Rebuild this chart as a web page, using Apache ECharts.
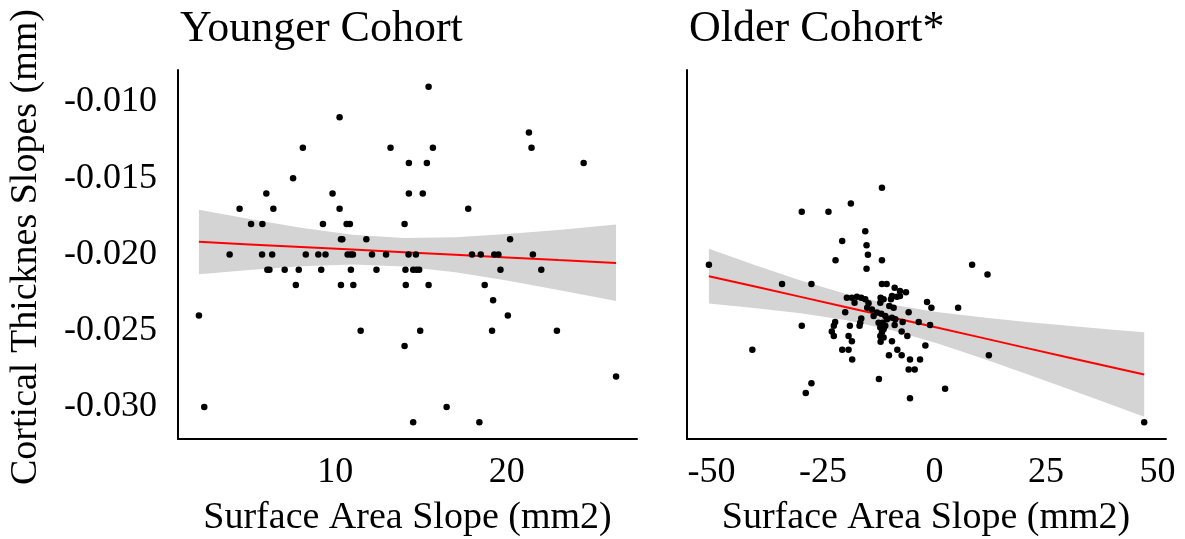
<!DOCTYPE html>
<html><head><meta charset="utf-8">
<script src="https://cdn.jsdelivr.net/npm/echarts@6/dist/echarts.min.js"></script>
<style>html,body{margin:0;padding:0;background:#fff}#c{width:1185px;height:539px}</style>
</head><body><div id="c"></div>
<script>
// ---- Younger cohort points ----
const youngerX = [15.44,10.25,21.29,8.11,13.22,15.69,21.44,14.29,15.34,24.48,7.54,5.98,9.84,14.29,15.10,
  4.42,6.39,10.25,17.75,5.09,5.75,9.28,10.66,10.85,14.04,10.33,10.41,11.81,20.19,
  3.84,5.73,6.32,8.28,9.01,9.43,10.72,10.90,11.03,12.14,12.96,14.27,14.70,17.97,18.48,19.27,19.51,21.52,
  6.04,6.16,7.05,7.87,9.18,10.91,12.40,14.09,14.54,14.73,14.89,19.63,22.01,
  7.70,10.33,11.05,14.11,15.44,18.71,19.20,2.05,20.06,11.48,14.95,19.14,22.92,14.04,26.37,2.36,16.49,14.54,18.40];
const youngerY = [-0.009,-0.011,-0.012,-0.013,-0.013,-0.013,-0.013,-0.014,-0.014,-0.014,-0.015,-0.016,-0.016,-0.016,-0.016,
  -0.017,-0.017,-0.017,-0.017,-0.018,-0.018,-0.018,-0.018,-0.018,-0.018,-0.019,-0.019,-0.019,-0.019,
  -0.020,-0.020,-0.020,-0.020,-0.020,-0.020,-0.020,-0.020,-0.020,-0.020,-0.020,-0.020,-0.020,-0.020,-0.020,-0.020,-0.020,-0.020,
  -0.021,-0.021,-0.021,-0.021,-0.021,-0.021,-0.021,-0.021,-0.021,-0.021,-0.021,-0.021,-0.021,
  -0.022,-0.022,-0.022,-0.022,-0.022,-0.022,-0.023,-0.024,-0.024,-0.025,-0.025,-0.025,-0.025,-0.026,-0.028,-0.030,-0.030,-0.031,-0.031];

// ---- Younger cohort fit + confidence band ----
const youngerFitX   = [2.05, 5, 8, 11, 14, 17, 20, 23, 26.37];
const youngerFitY   = [-0.01917,-0.01934,-0.01951,-0.01968,-0.01985,-0.02002,-0.02019,-0.02036,-0.02055];
const youngerUpper  = [-0.01706,-0.01767,-0.01825,-0.01870,-0.01892,-0.01887,-0.01866,-0.01839,-0.01804];
const youngerLower  = [-0.02129,-0.02101,-0.02077,-0.02066,-0.02078,-0.02117,-0.02171,-0.02232,-0.02305];

// ---- Older cohort points ----
const olderX = [-11.79,-18.76,-29.77,-23.78,-15.53,-20.70,-15.24,-14.94,-22.20,-11.79,-15.24,-50.59,8.43,11.88,
  -34.19,-27.60,-11.79,-10.74,-8.94,-7.75,-6.40,-29.77,-40.85,5.29,-1.68,-0.70,-5.80,-3.55,-1.00,-2.05,12.18,
  -27.60,-28.87,-12.47,2.37,-5.50,-5.80,-4.45,-5.50,-3.25,-7.37,-8.34,-10.22,-9.54,-6.10,-7.37,-8.94,-7.15,47.01,
  -19.66,-18.53,-17.41,-16.43,-15.53,-17.93,-14.79,-20.03,-15.09,-14.04,-13.66,-18.98,-16.43,-16.66,-16.81,
  -22.28,-22.58,-23.03,-22.58,-19.28,-18.53,-20.70,-19.28,-18.46,-12.09,-11.42,-12.16,-9.77,-9.54,-8.42,-7.75,
  -10.14,-9.17,-12.91,-11.94,-11.04,-12.54,-11.64,-10.67,-9.54,-8.79,-12.16,-11.42,-11.79,-11.04,-12.16,-11.42,-12.09];
const olderY = [-0.01562,-0.01665,-0.01719,-0.01719,-0.01848,-0.01911,-0.01939,-0.02002,-0.02037,-0.02037,-0.02094,-0.02068,-0.02068,-0.02131,
  -0.02194,-0.02194,-0.02194,-0.02194,-0.02218,-0.02240,-0.02248,-0.02468,-0.02625,-0.02349,-0.02312,-0.02349,-0.02379,-0.02442,-0.02462,-0.02597,-0.02660,
  -0.02845,-0.02909,-0.02817,-0.02880,-0.02943,-0.02754,-0.02754,-0.02688,-0.02688,-0.02660,-0.02625,-0.02660,-0.02569,-0.02534,-0.02505,-0.02462,-0.02442,-0.03100,
  -0.02283,-0.02283,-0.02277,-0.02283,-0.02294,-0.02316,-0.02320,-0.02379,-0.02349,-0.02360,-0.02403,-0.02468,-0.02420,-0.02447,-0.02468,
  -0.02442,-0.02468,-0.02505,-0.02534,-0.02534,-0.02569,-0.02625,-0.02625,-0.02688,-0.02283,-0.02294,-0.02316,-0.02294,-0.02272,-0.02277,-0.02272,
  -0.02338,-0.02349,-0.02380,-0.02388,-0.02403,-0.02447,-0.02447,-0.02425,-0.02414,-0.02425,-0.02479,-0.02490,-0.02512,-0.02468,-0.02534,-0.02545,-0.02573];

// ---- Older cohort fit + confidence band ----
const olderFitX  = [-50.59,-40,-30,-20,-10,0,10,20,30,40,47.01];
const olderFitY  = [-0.02142,-0.02212,-0.02278,-0.02344,-0.02410,-0.02476,-0.02542,-0.02609,-0.02675,-0.02741,-0.02787];
const olderUpper = [-0.01962,-0.02072,-0.02170,-0.02258,-0.02327,-0.02375,-0.02410,-0.02441,-0.02468,-0.02493,-0.02510];
const olderLower = [-0.02322,-0.02352,-0.02386,-0.02430,-0.02493,-0.02577,-0.02674,-0.02777,-0.02882,-0.02989,-0.03064];

// ---- Ticks / labels ----
const yTicks = [-0.030,-0.025,-0.020,-0.015,-0.010];
const youngerXTicks = [10, 20];
const olderXTicks = [-50,-25,0,25,50];
const panelTitles = ['Younger Cohort','Older Cohort*'];
const xAxisTitle = 'Surface Area Slope (mm2)';
const yAxisTitle = 'Cortical Thicknes Slopes (mm)';

const SERIF = '"Liberation Serif","Times New Roman",serif';
const zip = (a,b) => a.map((v,i)=>[v,b[i]]);

function band(idx, xs, lo, hi){
  return {type:'custom', xAxisIndex:idx, yAxisIndex:idx, z:1, silent:true,
    data:[[xs[0], lo[0]]],
    renderItem:(params, api)=>{
      const pts=[];
      for(let i=0;i<xs.length;i++) pts.push(api.coord([xs[i], hi[i]]));
      for(let i=xs.length-1;i>=0;i--) pts.push(api.coord([xs[i], lo[i]]));
      return {type:'polygon', shape:{points:pts}, style:{fill:'#d4d4d4'}};
    }};
}

function xAxis(idx, min, max, ticks){
  return {type:'value', gridIndex:idx, min, max,
    axisLine:{show:true, onZero:false, lineStyle:{color:'#000', width:2}},
    axisTick:{show:false}, splitLine:{show:false},
    axisLabel:{customValues:ticks, color:'#000', fontSize:36, fontFamily:SERIF, margin:16,
      showMinLabel:true, showMaxLabel:true}};
}
function yAxis(idx, showLabels){
  return {type:'value', gridIndex:idx, min:-0.0321, max:-0.0079,
    axisLine:{show:true, onZero:false, lineStyle:{color:'#000', width:2}},
    axisTick:{show:false}, splitLine:{show:false},
    axisLabel:{show:showLabels, customValues:yTicks, color:'#000', fontSize:36, fontFamily:SERIF, margin:21,
      formatter:v=>v.toFixed(3)}};
}

const chart = echarts.init(document.getElementById('c'), null, {renderer:'canvas'});
chart.setOption({
  animation:false,
  backgroundColor:'#fff',
  grid:[
    {left:178, top:70, width:459, height:369, outerBoundsMode:'none'},
    {left:687, top:70, width:479, height:369, outerBoundsMode:'none'}
  ],
  xAxis:[xAxis(0, 0.83, 27.59, youngerXTicks), xAxis(1, -55.5, 51.9, olderXTicks)],
  yAxis:[yAxis(0, true), yAxis(1, false)],
  series:[
    band(0, youngerFitX, youngerLower, youngerUpper),
    band(1, olderFitX, olderLower, olderUpper),
    {type:'line', xAxisIndex:0, yAxisIndex:0, z:2, data:zip(youngerFitX, youngerFitY), symbol:'none',
      lineStyle:{color:'#ff0000', width:2}, silent:true},
    {type:'line', xAxisIndex:1, yAxisIndex:1, z:2, data:zip(olderFitX, olderFitY), symbol:'none',
      lineStyle:{color:'#ff0000', width:2}, silent:true},
    {type:'scatter', xAxisIndex:0, yAxisIndex:0, z:3, data:zip(youngerX, youngerY), symbolSize:6.5,
      itemStyle:{color:'#000', opacity:1}},
    {type:'scatter', xAxisIndex:1, yAxisIndex:1, z:3, data:zip(olderX, olderY), symbolSize:6.5,
      itemStyle:{color:'#000', opacity:1}}
  ],
  graphic:[
    {type:'text', x:180, y:29, style:{text:panelTitles[0], font:'44px '+SERIF, fill:'#000', align:'left', verticalAlign:'middle'}},
    {type:'text', x:689, y:29, style:{text:panelTitles[1], font:'44px '+SERIF, fill:'#000', align:'left', verticalAlign:'middle'}},
    {type:'text', x:407.5, y:518, style:{text:xAxisTitle, font:'38px '+SERIF, fill:'#000', align:'center', verticalAlign:'middle'}},
    {type:'text', x:926, y:518, style:{text:xAxisTitle, font:'38px '+SERIF, fill:'#000', align:'center', verticalAlign:'middle'}},
    {type:'text', x:26, y:247, rotation:Math.PI/2, style:{text:yAxisTitle, font:'38px '+SERIF, fill:'#000', align:'center', verticalAlign:'middle'}}
  ]
});
</script></body></html>
